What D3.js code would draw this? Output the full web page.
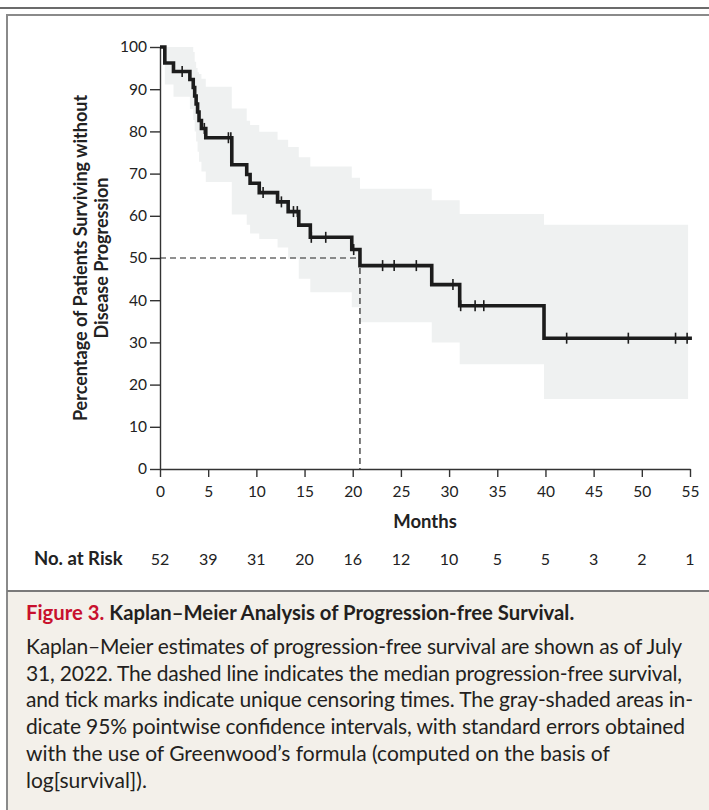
<!DOCTYPE html>
<html>
<head>
<meta charset="utf-8">
<script src="https://cdn.jsdelivr.net/npm/d3@7/dist/d3.min.js"></script>
<style>
  html, body { margin: 0; padding: 0; background: #ffffff; }
  svg { display: block; }
</style>
</head>
<body>
<svg id="chart" width="709" height="810"></svg>
<script>
// ---------------- DATA ----------------
// Kaplan–Meier step times (months) and survival (%) after each step
const stepTimes = [0, 0.5, 1.4, 3.1, 3.45, 3.6, 3.75, 3.9, 4.05, 4.3, 4.75, 7.45, 9.0, 9.35, 10.3, 12.2, 13.3, 14.4, 15.6, 19.9, 20.75, 28.2, 31.1, 39.85];
const survival  = [100, 96.2, 94.2, 92.3, 90.4, 88.4, 86.5, 84.6, 82.6, 80.7, 78.5, 72.1, 69.8, 67.7, 65.5, 63.3, 61.0, 57.8, 54.9, 52.0, 48.2, 43.7, 38.7, 31.0];
// 95% pointwise confidence band at each step
const ciLower   = [100, 91.1, 88.2, 85.3, 82.7, 80.0, 77.6, 75.2, 72.8, 70.5, 68.0, 60.3, 57.9, 55.8, 54.5, 52.5, 49.8, 45.1, 41.9, 38.3, 34.8, 30.0, 24.8, 16.6];
const ciUpper   = [100, 100, 100, 100, 98.8, 96.5, 95.0, 94.0, 93.6, 92.5, 90.6, 85.4, 82.5, 81.5, 79.9, 78.0, 76.3, 73.9, 71.7, 69.0, 66.4, 63.7, 60.4, 57.9];
const bandEnd = 54.8;      // months, end of confidence band
const curveEnd = 55.2;     // months, end of survival curve
// unique censoring times (months)
const censorTimes = [2.3, 4.6, 7.1, 7.35, 10.7, 12.6, 13.85, 14.25, 15.7, 17.2, 20.1, 23.1, 24.3, 26.6, 30.4, 31.2, 32.7, 33.6, 42.2, 48.6, 53.5, 54.7];
// median PFS
const medianMonths = 20.75;
const medianPct = 50;
// axes
const xTicks = [0, 5, 10, 15, 20, 25, 30, 35, 40, 45, 50, 55];
const yTicks = [0, 10, 20, 30, 40, 50, 60, 70, 80, 90, 100];
const atRisk = [52, 39, 31, 20, 16, 12, 10, 5, 5, 3, 2, 1];
// texts
const yTitleLines = ["Percentage of Patients Surviving without", "Disease Progression"];
const xTitle = "Months";
const atRiskLabel = "No. at Risk";
const figLabel = "Figure 3.";
const figTitle = "Kaplan\u2013Meier Analysis of Progression-free Survival.";
const captionLines = [
  "Kaplan\u2013Meier estimates of progression-free survival are shown as of July",
  "31, 2022. The dashed line indicates the median progression-free survival,",
  "and tick marks indicate unique censoring times. The gray-shaded areas in-",
  "dicate 95% pointwise confidence intervals, with standard errors obtained",
  "with the use of Greenwood\u2019s formula (computed on the basis of",
  "log[survival])."
];

// ---------------- DRAWING ----------------
const W = 709, H = 810;
const FONT = "Lato, 'Open Sans', sans-serif";
const svg = d3.select("#chart");

// frame: top rule, panel border, caption area
svg.append("line").attr("x1", 0).attr("x2", W).attr("y1", 8).attr("y2", 8)
  .attr("stroke", "#3a3a3a").attr("stroke-width", 1.6);
svg.append("rect").attr("x", 7).attr("y", 591).attr("width", W).attr("height", H - 591)
  .attr("fill", "#f3f0ea");
svg.append("path").attr("d", `M${W + 5},15 H7 V${H + 5}`)
  .attr("fill", "none").attr("stroke", "#8a8a8a").attr("stroke-width", 2);
svg.append("line").attr("x1", 7).attr("x2", W).attr("y1", 591).attr("y2", 591)
  .attr("stroke", "#7a7a7a").attr("stroke-width", 2);

const x = d3.scaleLinear().domain([0, 55]).range([160, 690]);
const y = d3.scaleLinear().domain([0, 100]).range([469, 47]);

// survival lookup
function survAt(t) {
  let v = survival[0];
  for (let i = 0; i < stepTimes.length; i++) if (stepTimes[i] <= t) v = survival[i];
  return v;
}

// confidence band
const bandData = stepTimes.map((t, i) => ({ t, lo: ciLower[i], hi: ciUpper[i] }));
bandData.push({ t: bandEnd, lo: ciLower[ciLower.length - 1], hi: ciUpper[ciUpper.length - 1] });
svg.append("path").datum(bandData)
  .attr("fill", "#eff1f1")
  .attr("d", d3.area().curve(d3.curveStepAfter)
    .x(d => x(d.t)).y0(d => y(d.lo)).y1(d => y(d.hi)));

// axes
const g = svg.append("g");
const yAxis = g.append("g").attr("transform", `translate(${x(0)},0)`)
  .call(d3.axisLeft(y).tickValues(yTicks).tickSize(10).tickSizeOuter(0).tickPadding(3));
const xAxis = g.append("g").attr("transform", `translate(0,${y(0)})`)
  .call(d3.axisBottom(x).tickValues(xTicks).tickSize(8).tickSizeOuter(0).tickPadding(8.5));
[yAxis, xAxis].forEach(a => {
  a.selectAll("path, line").attr("stroke", "#333").attr("stroke-width", 1.4);
  a.selectAll("text").attr("font-family", FONT).attr("font-size", 15.5).attr("fill", "#222");
});

// median dashed lines
svg.append("path")
  .attr("d", `M${x(0)},${y(medianPct)} H${x(medianMonths)} V${y(0)}`)
  .attr("fill", "none").attr("stroke", "#222").attr("stroke-width", 1.2)
  .attr("stroke-dasharray", "6,4");

// survival curve
const curveData = stepTimes.map((t, i) => ({ t, s: survival[i] }));
curveData.push({ t: curveEnd, s: survival[survival.length - 1] });
svg.append("path").datum(curveData)
  .attr("fill", "none").attr("stroke", "#1c1c1c").attr("stroke-width", 3.6)
  .attr("stroke-linejoin", "miter")
  .attr("d", d3.line().curve(d3.curveStepAfter).x(d => x(d.t)).y(d => y(d.s)));

// censor ticks
svg.append("g").selectAll("line").data(censorTimes).join("line")
  .attr("x1", d => x(d)).attr("x2", d => x(d))
  .attr("y1", d => y(survAt(d)) - 5.5).attr("y2", d => y(survAt(d)) + 5.5)
  .attr("stroke", "#1c1c1c").attr("stroke-width", 1.6);

// axis titles
svg.append("text").attr("x", x(27.5)).attr("y", 528)
  .attr("text-anchor", "middle").attr("font-family", FONT).attr("font-weight", 700)
  .attr("font-size", 18.5).attr("fill", "#222").text(xTitle);
yTitleLines.forEach((s, i) => {
  svg.append("text")
    .attr("transform", `translate(${i === 0 ? 87 : 108},${y(50)}) rotate(-90)`)
    .attr("text-anchor", "middle").attr("font-family", FONT).attr("font-weight", 700)
    .attr("font-size", 18).attr("fill", "#222").text(s);
});

// number at risk
svg.append("text").attr("x", 34).attr("y", 565)
  .attr("font-family", FONT).attr("font-weight", 700).attr("font-size", 18.5)
  .attr("fill", "#222").text(atRiskLabel);
svg.append("g").selectAll("text").data(atRisk).join("text")
  .attr("x", (d, i) => x(xTicks[i])).attr("y", 565)
  .attr("text-anchor", "middle").attr("font-family", FONT).attr("font-size", 16)
  .attr("fill", "#222").text(d => d);

// caption
const title = svg.append("text").attr("x", 26).attr("y", 620)
  .attr("font-family", FONT).attr("font-weight", 700).attr("font-size", 20.3);
title.append("tspan").attr("fill", "#c8102e").text(figLabel + " ");
title.append("tspan").attr("fill", "#231f20").text(figTitle);

const lineEnds = [682, 682, 693, 685, null, null];
captionLines.forEach((s, i) => {
  const t = svg.append("text").attr("x", 26).attr("y", 654 + i * 26.7)
    .attr("font-family", FONT).attr("font-size", 21).attr("fill", "#231f20").text(s);
  if (lineEnds[i]) t.attr("textLength", lineEnds[i] - 26).attr("lengthAdjust", "spacing");
});
</script>
</body>
</html>
